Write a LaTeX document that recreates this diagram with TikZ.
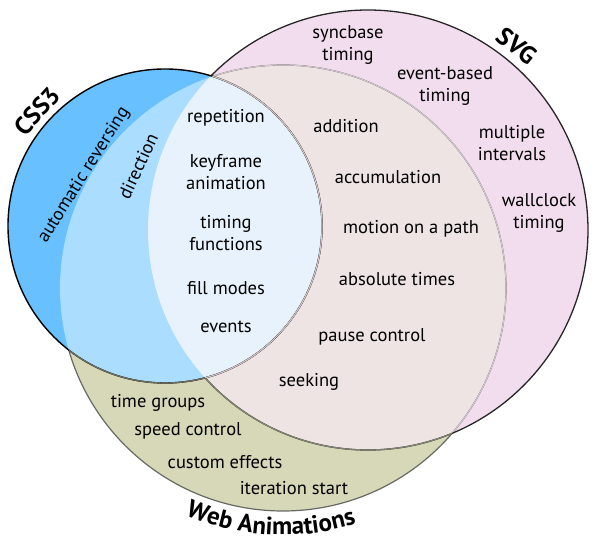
\documentclass[tikz,border=0pt]{standalone}
\usepackage{fontspec}
\setmainfont{PT Sans}
\usetikzlibrary{decorations.text}
\definecolor{cssblue}{RGB}{104,192,255}
\definecolor{csswa}{RGB}{170,221,255}
\definecolor{allthree}{RGB}{232,242,252}
\definecolor{svgpink}{RGB}{242,221,238}
\definecolor{svgwa}{RGB}{238,228,228}
\definecolor{waolive}{RGB}{214,216,184}
\definecolor{waline}{RGB}{105,105,100}
\definecolor{faintline}{RGB}{214,200,208}
\definecolor{olivegray}{RGB}{110,110,95}
\newcommand{\ttlfont}{\fontsize{25}{29}\bfseries\selectfont}
\begin{document}
\begin{tikzpicture}[x=1pt,y=1pt,
  lbl/.style={font=\fontsize{18.5}{22.5}\selectfont, align=center, inner sep=0pt},
  ttl/.style={font=\ttlfont, inner sep=0pt}]
\useasboundingbox (0,0) rectangle (600,541);
\coordinate (cA) at (165,315); % CSS3
\coordinate (cB) at (368,311); % SVG
\coordinate (cC) at (283,253); % Web Animations
% fills
\fill[waolive] (cC) circle (223pt);
\fill[svgpink] (cB) circle (220pt);
\begin{scope}
  \clip (cC) circle (223pt);
  \fill[svgwa] (cB) circle (220pt);
\end{scope}
% outline of Web Animations
\draw[waline, line width=1.2pt] (cC) circle (223pt);
\begin{scope}
  \clip (cB) circle (220pt);
  \draw[faintline, line width=1pt] (cC) circle (223pt);
\end{scope}
% outline of SVG
\draw[black!85, line width=1.3pt] (cB) circle (220pt);
\begin{scope}
  \clip (cC) circle (223pt);
  \draw[olivegray!80!waolive, line width=1.2pt] (cB) circle (220pt);
\end{scope}
% CSS3
\fill[cssblue] (cA) circle (157pt);
\begin{scope}
  \clip (cA) circle (157pt);
  \fill[csswa] (cC) circle (223pt);
  \fill[allthree] (cB) circle (220pt);
\end{scope}
\draw[black, line width=1.4pt] (cA) circle (157pt);
\begin{scope}
  \clip (cC) circle (223pt);
  \draw[olivegray, line width=1.3pt] (cA) circle (157pt);
  \clip (cB) circle (220pt);
  \draw[faintline, line width=1pt] (cA) circle (157pt);
\end{scope}
% titles
\node[ttl, rotate=48] (tcss) at (37,430) {CSS3};
\node[ttl, rotate=-39] (tsvg) at (517,495) {SVG};
\path[decorate, decoration={text along path, text align=center,
  text={|\ttlfont|Web Animations}}]
  ([shift={(-128:247pt)}]cC) arc[start angle=-128, end angle=-58, radius=247pt];
% CSS3 only
\node[lbl, rotate=58] (autorev) at (84,366) {automatic reversing};
% CSS3 and Web Animations
\node[lbl, rotate=65] (dir) at (138,375) {direction};
% all three
\node[lbl] (rep) at (226,423) {repetition};
\node[lbl] (key) at (226,369) {keyframe\\animation};
\node[lbl] (tim) at (226,308) {timing\\functions};
\node[lbl] (fill) at (226,253) {fill modes};
\node[lbl] (evt) at (226,214) {events};
% SVG and Web Animations
\node[lbl] (add) at (346,415) {addition};
\node[lbl] (acc) at (388,364) {accumulation};
\node[lbl] (mot) at (411,312) {motion on a path};
\node[lbl] (abs) at (397,262) {absolute times};
\node[lbl] (pause) at (372,204) {pause control};
\node[lbl] (seek) at (309,159) {seeking};
% SVG only
\node[lbl] (sync) at (348,496) {syncbase\\timing};
\node[lbl] (evb) at (445,455) {event-based\\timing};
\node[lbl] (mult) at (512,398) {multiple\\intervals};
\node[lbl] (wall) at (539,328) {wallclock\\timing};
% Web Animations only
\node[lbl] (tg) at (158,138) {time groups};
\node[lbl] (spd) at (188,110) {speed control};
\node[lbl] (cust) at (225,79) {custom effects};
\node[lbl] (iter) at (294,53) {iteration start};
\end{tikzpicture}
\end{document}
